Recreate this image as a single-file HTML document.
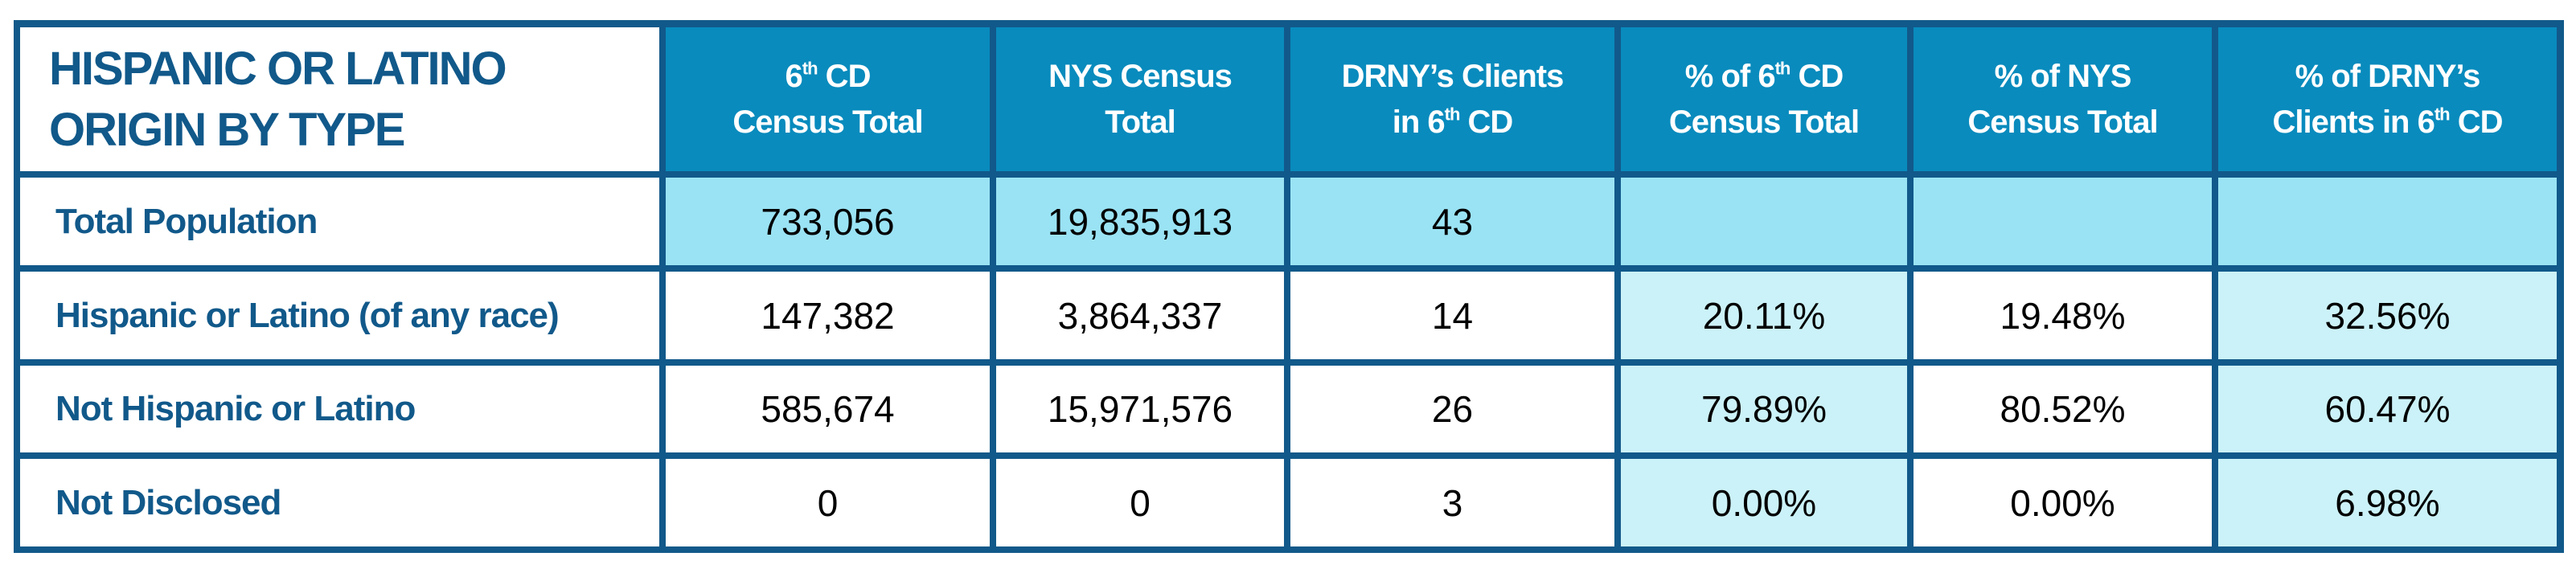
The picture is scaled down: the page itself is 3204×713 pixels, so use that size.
<!DOCTYPE html>
<html><head><meta charset="utf-8"><style>
body{margin:0;width:3204px;height:713px;background:#fff;position:relative;overflow:hidden;font-family:"Liberation Sans",sans-serif}
#frame{position:absolute;left:17px;top:25px;width:3172px;height:663px;background:#11598a}
.c{position:absolute;display:flex;align-items:center;justify-content:center;text-align:center;box-sizing:border-box}
.hd{background:#098bbd;color:#fff;font-weight:bold;font-size:40px;line-height:57px;letter-spacing:-1px}
.num{font-size:46px;color:#000}
.lab{justify-content:flex-start;padding-left:44px;color:#11598a;font-weight:bold;font-size:44px;letter-spacing:-1px}
.title{justify-content:flex-start;text-align:left;padding-left:36px;color:#11598a;font-weight:bold;font-size:58px;line-height:76px;letter-spacing:-2px;background:#fff}
sup{font-size:0.55em;vertical-align:0.7em;line-height:0}
</style></head><body>
<div id="frame"></div>
<script>
const headers=["6<sup>th</sup> CD<br>Census Total","NYS Census<br>Total","DRNY’s Clients<br>in 6<sup>th</sup> CD","% of 6<sup>th</sup> CD<br>Census Total","% of NYS<br>Census Total","% of DRNY’s<br>Clients in 6<sup>th</sup> CD"];
const rowLabels=["Total Population","Hispanic or Latino (of any race)","Not Hispanic or Latino","Not Disclosed"];
const cdTotals=["733,056","147,382","585,674","0"];
const nysTotals=["19,835,913","3,864,337","15,971,576","0"];
const clients=["43","14","26","3"];
const pctCd=["","20.11%","79.89%","0.00%"];
const pctNys=["","19.48%","80.52%","0.00%"];
const pctClients=["","32.56%","60.47%","6.98%"];
const cx=[21,824,1235,1601,2012,2376,2755,3184];
const cy=[30,217,334,451,567,684];
function cell(c,r,cls,html,bg,name){
  const d=document.createElement('div');
  d.className='c '+cls;
  d.style.left=(cx[c]+4)+'px';d.style.top=(cy[r]+4)+'px';
  d.style.width=(cx[c+1]-cx[c]-8)+'px';d.style.height=(cy[r+1]-cy[r]-8)+'px';
  if(bg)d.style.background=bg;
  d.innerHTML='<div>'+html+'</div>';
  
  
  document.body.appendChild(d);
}
cell(0,0,'title','HISPANIC OR LATINO<br>ORIGIN BY TYPE','#fff','table-title');
headers.forEach((h,i)=>cell(i+1,0,'hd',h,null,'column-header-'+(i+1)));
const cols=[cdTotals,nysTotals,clients,pctCd,pctNys,pctClients];
rowLabels.forEach((l,r)=>{
  cell(0,r+1,'lab',l,'#fff','row-label-'+(r+1));
  cols.forEach((arr,c)=>{
    let bg='#fff';
    if(r===0)bg='#9ae3f4';
    else if(c===3||c===5)bg='#cbf2f8';
    cell(c+1,r+1,'num',arr[r],bg,'cell-r'+(r+1)+'-c'+(c+1));
  });
});
</script>
</body></html>
